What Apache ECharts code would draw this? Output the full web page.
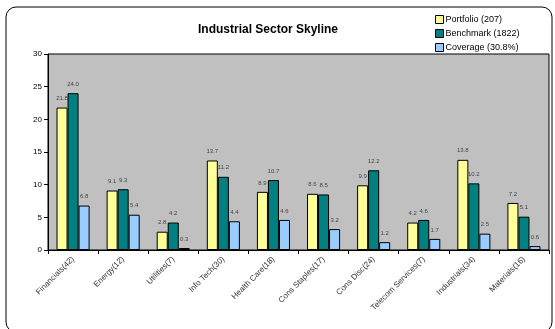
<!DOCTYPE html>
<html><head><meta charset="utf-8">
<script src="https://cdn.jsdelivr.net/npm/echarts@6/dist/echarts.min.js"></script>
<style>html,body{margin:0;padding:0;background:#fff;}#c{width:555px;height:329px;}</style>
</head><body><div id="c"></div>
<script>
var categories = ['Financials(42)','Energy(12)','Utilities(7)','Info Tech(30)','Health Care(18)','Cons Staples(17)','Cons Disc(24)','Telecom Services(7)','Industrials(34)','Materials(16)'];
var portfolio = [21.8, 9.1, 2.8, 13.7, 8.9, 8.6, 9.9, 4.2, 13.8, 7.2];
var benchmark = [24.0, 9.3, 4.2, 11.2, 10.7, 8.5, 12.2, 4.6, 10.2, 5.1];
var coverage = [6.8, 5.4, 0.3, 4.4, 4.6, 3.2, 1.2, 1.7, 2.5, 0.6];
var seriesNames = ['Portfolio (207)','Benchmark (1822)','Coverage (30.8%)'];
var colors = ['#FFFF99','#008080','#99CCFF'];
var font = 'Liberation Sans, Arial, sans-serif';

var chart = echarts.init(document.getElementById('c'));
function mk(name, data, color){
  return {
    name: name, type: 'bar', data: data, barGap: '0%', barCategoryGap: '34%',
    itemStyle: {color: color, borderColor: '#000', borderWidth: 1},
    label: {show: true, position: 'top', distance: 6, fontSize: 6, color: '#444', fontFamily: font,
      formatter: function(p){return p.value.toFixed(1);}}
  };
}
chart.setOption({
  animation: false,
  graphic: [{type:'rect', shape:{x:6,y:7,width:546,height:325,r:10}, style:{fill:'none', stroke:'#000', lineWidth:1}, z:-1}],
  title: {text: 'Industrial Sector Skyline', left: 263, top: 19, textAlign: 'center',
    textStyle: {fontSize: 12, fontWeight: 'bold', fontFamily: font, color: '#000'}},
  legend: {orient: 'vertical', left: 430, top: 10, itemWidth: 8, itemHeight: 8, itemGap: 5,
    icon: 'rect', textStyle: {fontSize: 9, fontFamily: font, color: '#000', padding:[0,0,0,-3]},
    itemStyle: {borderColor:'#000', borderWidth:1}},
  grid: {left: 48, right: 6, top: 54, bottom: 79, show: true, backgroundColor: '#C0C0C0', borderColor: '#000', borderWidth: 1},
  xAxis: {type: 'category', data: categories,
    axisLine: {lineStyle: {color: '#000'}},
    axisTick: {show: true, length: 4, lineStyle:{color:'#000'}},
    axisLabel: {rotate: 45, fontSize: 8, color: '#333', fontFamily: font, margin: 8, interval: 0}},
  yAxis: {type: 'value', min: 0, max: 30, interval: 5,
    axisLine: {show: true, lineStyle: {color: '#000'}},
    axisTick: {show: true, length: 4, lineStyle:{color:'#000'}},
    splitLine: {show: false},
    axisLabel: {fontSize: 8, color: '#000', fontFamily: font, margin: 6}},
  series: [mk(seriesNames[0], portfolio, colors[0]), mk(seriesNames[1], benchmark, colors[1]), mk(seriesNames[2], coverage, colors[2])]
});
</script></body></html>
